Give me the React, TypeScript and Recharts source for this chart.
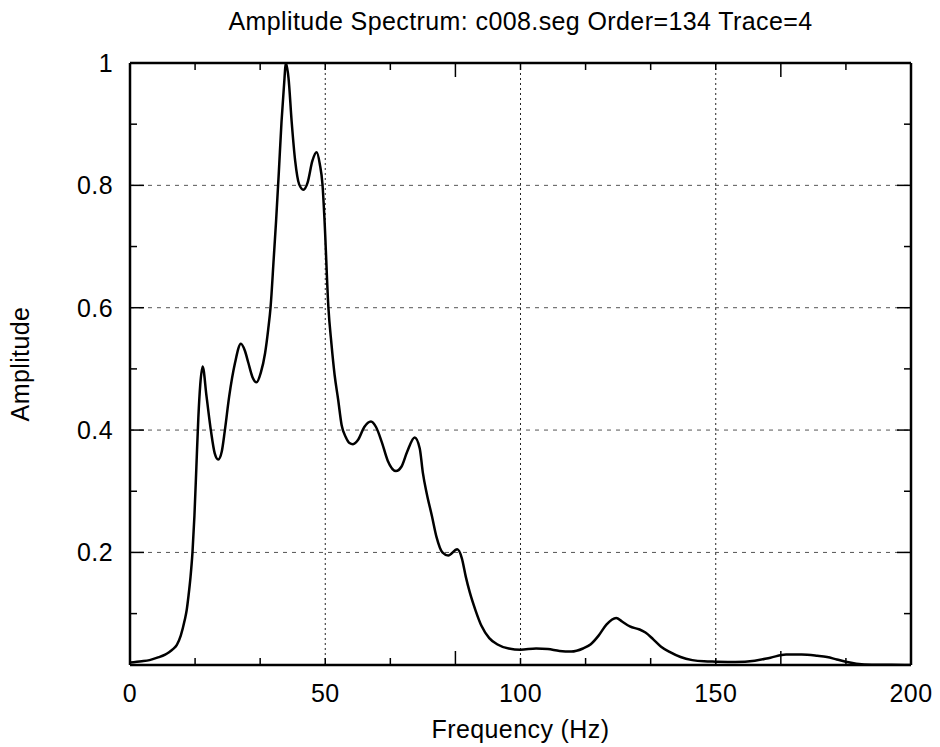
import { LineChart, Line, XAxis, YAxis, ReferenceLine } from 'recharts';

const TITLE = 'Amplitude Spectrum: c008.seg Order=134 Trace=4';

// frequency (Hz) and normalised amplitude
const FREQ = [
  0, 3, 5, 7, 9, 10, 11, 12, 13, 14, 14.5, 15, 15.5, 16, 16.5, 17, 17.5, 18,
  18.6, 19.6, 20.7, 21.7, 22.6, 23.5, 24.3, 25.4, 26.9, 28.4, 29.4, 30.3, 31.4,
  32.4, 33.5, 34.6, 35.4, 36, 36.8, 37.4, 38.1, 38.8, 39.4, 39.95, 40.6, 41.4,
  42.3, 43.3, 44.4, 45.5, 46.7, 47.8, 48.6, 49.3, 49.8, 50.8, 51.6, 52.4, 53.3,
  54.2, 55.3, 56.2, 57.1, 58.5, 60, 61.7, 63, 64.5, 66, 68.1, 69.5, 71, 72.9,
  74.2, 75, 76, 77.3, 78.5, 80, 81.5, 83.8, 85, 86, 87, 88.5, 90, 92, 94, 97,
  100, 104, 107, 110, 113, 116, 118, 120, 122, 124.5, 126, 128, 130.5, 132, 134,
  136, 138.3, 141, 144, 147, 150, 155, 160, 164, 168, 172, 176, 178.5, 181,
  183.5, 186, 190, 195, 200,
];
const AMPLITUDE = [
  0.02, 0.022, 0.024, 0.028, 0.033, 0.037, 0.042, 0.049, 0.064, 0.089, 0.105,
  0.13, 0.16, 0.2, 0.26, 0.34, 0.42, 0.475, 0.504, 0.455, 0.4, 0.362, 0.352,
  0.365, 0.4, 0.455, 0.51, 0.541, 0.53, 0.51, 0.486, 0.478, 0.494, 0.526,
  0.565, 0.601, 0.68, 0.741, 0.82, 0.904, 0.96, 1.0, 0.975, 0.904, 0.84, 0.802,
  0.793, 0.805, 0.84, 0.854, 0.835, 0.801, 0.745, 0.601, 0.54, 0.49, 0.45,
  0.408, 0.388, 0.379, 0.377, 0.385, 0.405, 0.414, 0.405, 0.38, 0.35, 0.333,
  0.34, 0.365, 0.388, 0.37, 0.33, 0.296, 0.26, 0.225, 0.2, 0.195, 0.205, 0.19,
  0.16, 0.135, 0.105, 0.08, 0.06, 0.05, 0.043, 0.041, 0.043, 0.042, 0.039,
  0.038, 0.043, 0.05, 0.064, 0.082, 0.093, 0.087, 0.079, 0.074, 0.069, 0.058,
  0.046, 0.037, 0.029, 0.024, 0.022, 0.0215, 0.021, 0.023, 0.028, 0.033, 0.033,
  0.031, 0.029, 0.025, 0.021, 0.018, 0.0165, 0.0165, 0.016,
];

const X_MAJOR = [0, 50, 100, 150, 200];
const X_MINOR = [10, 20, 30, 40, 60, 70, 80, 90, 110, 120, 130, 140, 160, 170, 180, 190];
const X_GRID = [50, 100, 150];
const Y_MAJOR = [0.2, 0.4, 0.6, 0.8, 1];
const Y_MINOR = [0.1, 0.3, 0.5, 0.7, 0.9];
const Y_GRID = [0.2, 0.4, 0.6, 0.8];

const data = FREQ.map((f, i) => ({ f, a: AMPLITUDE[i] }));
const X_DOMAIN = [0, 200];
const Y_DOMAIN = [Math.min(...AMPLITUDE), 1];

const FONT = '"Liberation Sans", Arial, sans-serif';
const TEXT = { fontSize: 25, fill: '#000', letterSpacing: 0.4 };
const BORDER = { stroke: '#000', strokeWidth: 2.5 };
const TICK = { stroke: '#000', strokeWidth: 1.5 };
const THIN = 0.001; // axes take no room, the margin holds the labels

// tick={false} drops the tick lines too, so hide only the label
const NoLabel = () => <g />;

function YTitle(props: any) {
  const vb = props.viewBox || { y: 63, height: 602 };
  const cy = vb.y + vb.height / 2;
  return (
    <text
      x={29}
      y={cy}
      transform={`rotate(-90, 29, ${cy})`}
      textAnchor="middle"
      fontSize={25}
      letterSpacing={0.4}
      fill="#000"
    >
      Amplitude
    </text>
  );
}

// inward tick marks: mirrored axes with no labels
function xTicks(id: string, side: 'top' | 'bottom', ticks: number[], size: number) {
  return (
    <XAxis
      key={id}
      xAxisId={id}
      orientation={side}
      mirror
      type="number"
      domain={X_DOMAIN}
      allowDataOverflow
      ticks={ticks}
      interval={0}
      height={THIN}
      tickSize={size}
      tickLine={TICK}
      axisLine={false}
      tick={NoLabel}
    />
  );
}

function yTicks(id: string, side: 'left' | 'right', ticks: number[], size: number) {
  return (
    <YAxis
      key={id}
      yAxisId={id}
      orientation={side}
      mirror
      type="number"
      domain={Y_DOMAIN}
      allowDataOverflow
      ticks={ticks}
      interval={0}
      width={THIN}
      tickSize={size}
      tickLine={TICK}
      axisLine={false}
      tick={NoLabel}
    />
  );
}

export default function App() {
  return (
    <div style={{ width: 940, height: 747, fontFamily: FONT, background: '#fff' }}>
      <style>{'body{margin:0}'}</style>
      <LineChart
        width={940}
        height={747}
        data={data}
        margin={{ top: 63, right: 29, bottom: 82, left: 130 }}
      >
        <XAxis
          xAxisId="x"
          dataKey="f"
          type="number"
          domain={X_DOMAIN}
          allowDataOverflow
          ticks={X_MAJOR}
          interval={0}
          height={THIN}
          tickSize={0}
          tickMargin={19}
          tickLine={false}
          axisLine={BORDER}
          tick={TEXT}
          label={{ value: 'Frequency (Hz)', position: 'bottom', offset: 55, ...TEXT }}
        />
        <XAxis
          xAxisId="xTop"
          orientation="top"
          type="number"
          domain={X_DOMAIN}
          allowDataOverflow
          ticks={X_MAJOR}
          interval={0}
          height={THIN}
          tickLine={false}
          axisLine={BORDER}
          tick={false}
          label={{ value: TITLE, position: 'top', offset: 33, ...TEXT }}
        />
        <YAxis
          yAxisId="y"
          type="number"
          domain={Y_DOMAIN}
          allowDataOverflow
          ticks={Y_MAJOR}
          interval={0}
          width={THIN}
          tickSize={0}
          tickMargin={17}
          tickLine={false}
          axisLine={BORDER}
          tick={TEXT}
          tickFormatter={(v: number) => (v === 1 ? '1' : v.toFixed(1))}
          label={<YTitle />}
        />
        <YAxis
          yAxisId="yRight"
          orientation="right"
          type="number"
          domain={Y_DOMAIN}
          allowDataOverflow
          ticks={Y_MAJOR}
          interval={0}
          width={THIN}
          tickLine={false}
          axisLine={BORDER}
          tick={false}
        />
        {xTicks('xbMaj', 'bottom', X_MAJOR, 14)}
        {xTicks('xbMin', 'bottom', X_MINOR, 7)}
        {xTicks('xtMaj', 'top', X_MAJOR, 14)}
        {xTicks('xtMin', 'top', X_MINOR, 7)}
        {yTicks('ylMaj', 'left', Y_MAJOR, 14)}
        {yTicks('ylMin', 'left', Y_MINOR, 7)}
        {yTicks('yrMaj', 'right', Y_MAJOR, 14)}
        {yTicks('yrMin', 'right', Y_MINOR, 7)}
        {X_GRID.map((v) => (
          <ReferenceLine
            key={`gx-${v}`}
            x={v}
            xAxisId="x"
            yAxisId="y"
            stroke="#222"
            strokeWidth={1}
            strokeDasharray="2 3"
          />
        ))}
        {Y_GRID.map((v) => (
          <ReferenceLine
            key={`gy-${v}`}
            y={v}
            xAxisId="x"
            yAxisId="y"
            stroke="#555"
            strokeWidth={1}
            strokeDasharray="4 5"
          />
        ))}
        <Line
          xAxisId="x"
          yAxisId="y"
          type="monotone"
          dataKey="a"
          stroke="#000"
          strokeWidth={2.5}
          dot={false}
          activeDot={false}
          isAnimationActive={false}
        />
      </LineChart>
    </div>
  );
}
